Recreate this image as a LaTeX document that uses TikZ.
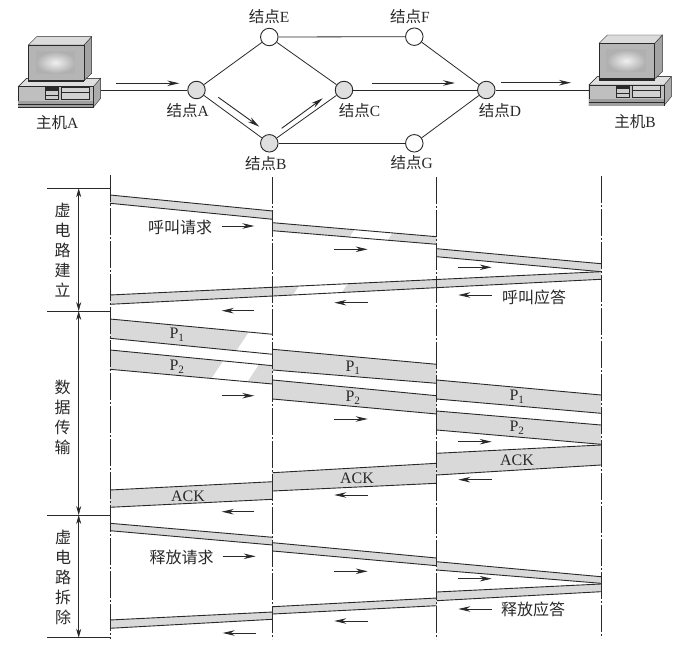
\documentclass[tikz,border=0pt]{standalone}
\usepackage{fontspec}
\setmainfont{Liberation Serif}
\newfontfamily\cjkfam{Noto Sans CJK SC}
\usetikzlibrary{arrows.meta}
\newcommand\cntext[1]{{\cjkfam #1}}
\definecolor{ink}{gray}{0.16}
\definecolor{bandgray}{gray}{0.85}
\tikzset{
  labeltext/.style={font=\fontsize{15.5}{17}\selectfont, inner sep=0pt, text=ink},
  bigtext/.style={font=\fontsize{16}{20}\selectfont, inner sep=0pt, text=ink, align=center},
  bandtext/.style={font=\fontsize{16}{18}\selectfont, inner sep=0pt, text=ink},
  netnode/.style={circle, draw=ink, line width=0.9pt, minimum size=17.5pt, inner sep=0pt},
  graynode/.style={netnode, fill=gray!25},
  whitenode/.style={netnode, fill=white},
  link/.style={draw=ink, line width=0.8pt},
  flowarrow/.style={draw=ink, line width=0.9pt, -{Stealth[length=12pt,width=5.5pt]}},
  bandline/.style={draw=ink, line width=0.9pt},
  lifeline/.style={draw=ink, line width=0.8pt, dash pattern=on 27pt off 2pt on 2pt off 2pt},
  rulerline/.style={draw=ink, line width=0.8pt},
  spanarrow/.style={draw=ink, line width=0.7pt, {Stealth[length=9pt,width=5pt]}-{Stealth[length=9pt,width=5pt]}},
}
% x1 yt1 yb1 x2 yt2 yb2
\newcommand\band[6]{%
  \fill[bandgray] (#1,#2)--(#4,#5)--(#4,#6)--(#1,#3)--cycle;
  \draw[bandline] (#1,#2)--(#4,#5) (#1,#3)--(#4,#6);
}
% same, with a pale gap between x=#7 and x=#8
\newcommand\bandgap[8]{%
  \fill[bandgray] (#1,#2)--(#4,#5)--(#4,#6)--(#1,#3)--cycle;
  \begin{scope}
    \clip (#1,#2)--(#4,#5)--(#4,#6)--(#1,#3)--cycle;
    \pgfmathsetmacro\gapy{(#2+#3+#5+#6)/4}
    \fill[white] (#7-20,\gapy+30)--(#8-20,\gapy+30)--(#8+20,\gapy-30)--(#7+20,\gapy-30)--cycle;
  \end{scope}
  \draw[bandline] (#1,#2)--(#4,#5) (#1,#3)--(#4,#6);
}
\newcommand\flow[4]{%
  \coordinate (#1s) at (#2,#4);
  \coordinate (#1e) at (#3,#4);
  \draw[flowarrow] (#1s)--(#1e);
}
% computer drawn in 1/3-pixel units
\newcommand\computer[2]{%
  \begin{scope}[shift={(#1,#2)},x=0.3333pt,y=-0.3333pt]
    \filldraw[draw=ink, fill=gray!65] (25,170)--(50,145)--(272,145)--(272,205)--(250,232)--(25,232)--cycle;
    \filldraw[draw=ink, fill=gray!25] (25,170)--(50,145)--(272,145)--(250,170)--cycle;
    \filldraw[draw=ink, fill=gray!50] (25,170)--(250,170)--(250,232)--(25,232)--cycle;
    \fill[gray!75] (25,213)--(250,213)--(250,232)--(25,232)--cycle;
    \draw[ink] (25,222)--(250,222);
    \filldraw[draw=ink, fill=gray!40] (105,172) rectangle (145,208);
    \fill[ink] (105,172) rectangle (145,183);
    \draw[ink] (105,195)--(145,195);
    \filldraw[draw=ink, fill=gray!35] (155,172) rectangle (238,208);
    \draw[ink] (155,186)--(238,186);
    \filldraw[draw=ink, fill=gray!72] (222,45)--(245,20)--(245,130)--(222,152)--cycle;
    \filldraw[draw=ink, fill=gray!28] (55,45)--(80,20)--(245,20)--(222,45)--cycle;
    \filldraw[draw=ink, fill=gray!58] (55,45) rectangle (222,150);
    \fill[ink] (55,150) rectangle (222,157);
    \shade[inner color=gray!12, outer color=gray!62] (78,65) rectangle (195,130);
  \end{scope}
}
\begin{document}
\begin{tikzpicture}[x=1pt,y=-1pt]
\useasboundingbox (0,0) rectangle (689,661);
\fill[white] (0,0) rectangle (689,661);

%--- hosts
\computer{10}{30}
\computer{580.7}{28.3}
\coordinate (hostA) at (100.7,90);
\coordinate (hostB) at (590,90);

%--- network nodes
\node[graynode]  (nA) at (196.5,90) {};
\node[whitenode] (nE) at (269.3,37) {};
\node[graynode]  (nB) at (269.3,143.3) {};
\node[graynode]  (nC) at (344,90) {};
\node[whitenode] (nF) at (414.3,36.7) {};
\node[whitenode] (nG) at (414.3,143.3) {};
\node[graynode]  (nD) at (486.3,90) {};

\draw[link] (hostA)--(nA);
\draw[link] (nA)--(nE);
\draw[link] (nA)--(nB);
\draw[link] (nE)--(nF);
\draw[link] (nE)--(nC);
\draw[link] (nB)--(nC);
\draw[link] (nB)--(nG);
\draw[link] (nC)--(nD);
\draw[link] (nF)--(nD);
\draw[link] (nG)--(nD);
\draw[link] (nD)--(hostB);

\node[labeltext] (lA) at (187.7,110.7) {\cntext{结点}A};
\node[labeltext] (lB) at (265.7,163.3) {\cntext{结点}B};
\node[labeltext] (lC) at (359.5,110.7) {\cntext{结点}C};
\node[labeltext] (lD) at (500,110.7) {\cntext{结点}D};
\node[labeltext] (lE) at (269,17) {\cntext{结点}E};
\node[labeltext] (lF) at (410,17) {\cntext{结点}F};
\node[labeltext] (lG) at (411.7,163) {\cntext{结点}G};
\node[labeltext] (hA) at (57.3,122.7) {\cntext{主机}A};
\node[labeltext] (hB) at (635,121.7) {\cntext{主机}B};

%--- arrows in the network
\flow{n1}{116}{179.3}{83.3}
\coordinate (n2s) at (218.3,97.3);
\coordinate (n2e) at (259.3,126.7);
\draw[flowarrow] (n2s)--(n2e);
\coordinate (n3s) at (281.7,128.3);
\coordinate (n3e) at (322.7,98.3);
\draw[flowarrow] (n3s)--(n3e);
\flow{n4}{371.7}{455}{83}
\flow{n5}{501}{571}{82.7}

%--- bands
% call request
\band{110}{195}{203.3}{272.7}{211}{219.3}
\bandgap{272.7}{222.7}{230.7}{436.7}{236.7}{244.3}{352}{392}
\band{436.7}{248.7}{256.7}{601}{263.7}{271.7}
% call reply
\bandgap{110}{295}{304.3}{601}{271.7}{279.3}{298}{345}
% data
\bandgap{110}{319}{338.3}{272.7}{334.3}{354.3}{246}{295}
\bandgap{110}{350}{369.3}{272.7}{365.7}{384}{219}{257}
\band{272.7}{349.3}{370}{436.7}{364.3}{383.3}
\band{272.7}{380}{399}{436.7}{395.7}{414}
\band{436.7}{380}{399}{601}{395}{413.3}
\band{436.7}{411}{430}{601}{425}{444.3}
% ack
\band{436.7}{453.3}{475}{601}{445}{465}
\band{272.7}{472.7}{491}{436.7}{463.3}{483.3}
\band{110}{490}{507.3}{272.7}{481.7}{499.3}
% release request
\band{110}{523.3}{530.7}{272.7}{537.3}{545}
\band{272.7}{542.7}{551}{436.7}{558}{565.7}
\band{436.7}{561.7}{570}{601}{576.7}{583.3}
% release reply
\band{436.7}{592}{600.7}{601}{584}{591.7}
\band{272.7}{606.7}{614}{436.7}{598}{605.7}
\band{110}{620}{628.3}{272.7}{612}{619.3}

%--- time lines
\coordinate (t1a) at (110,175);    \coordinate (t1b) at (110,639);
\coordinate (t2a) at (272.7,177);  \coordinate (t2b) at (272.7,639);
\coordinate (t3a) at (436.7,177);  \coordinate (t3b) at (436.7,639);
\coordinate (t4a) at (601,176);    \coordinate (t4b) at (601,638);
\draw[lifeline] (t1a)--(t1b);
\draw[lifeline] (t2a)--(t2b);
\draw[lifeline] (t3a)--(t3b);
\draw[lifeline] (t4a)--(t4b);

%--- phase rulers
\coordinate (r1l) at (47,188.3); \coordinate (r1r) at (110,188.3);
\coordinate (r2l) at (47,311);   \coordinate (r2r) at (110,311);
\coordinate (r3l) at (47,515);   \coordinate (r3r) at (110,515);
\coordinate (r4l) at (47,637.7); \coordinate (r4r) at (110,637.7);
\draw[rulerline] (r1l)--(r1r);
\draw[rulerline] (r2l)--(r2r);
\draw[rulerline] (r3l)--(r3r);
\draw[rulerline] (r4l)--(r4r);
\coordinate (s1) at (78.7,188.3);
\coordinate (s2) at (78.7,311);
\coordinate (s3) at (78.7,515);
\coordinate (s4) at (78.7,637.7);
\draw[spanarrow] (s1)--(s2);
\draw[spanarrow] (s2)--(s3);
\draw[spanarrow] (s3)--(s4);

\node[bigtext] (ph1) at (62.7,250.5) {\cntext{虚}\\\cntext{电}\\\cntext{路}\\\cntext{建}\\\cntext{立}};
\node[bigtext] (ph2) at (62.7,417.5) {\cntext{数}\\\cntext{据}\\\cntext{传}\\\cntext{输}};
\node[bigtext] (ph3) at (63,577.5) {\cntext{虚}\\\cntext{电}\\\cntext{路}\\\cntext{拆}\\\cntext{除}};

%--- flow arrows
\flow{a1}{221.7}{254.3}{226}
\flow{a2}{334.3}{367.7}{249.3}
\flow{a3}{458.3}{491.7}{267.3}
\flow{a4}{491.7}{458.3}{295}
\flow{a5}{367.7}{334.3}{302.7}
\flow{a6}{254.3}{221.7}{310.7}
\flow{a7}{221.7}{254.3}{395.7}
\flow{a8}{334.3}{367.7}{419}
\flow{a9}{458.3}{491.7}{441.7}
\flow{a10}{491.7}{458.3}{479.7}
\flow{a11}{367.7}{334.3}{495}
\flow{a12}{254.3}{221.7}{511.7}
\flow{a13}{222.7}{255.7}{556.3}
\flow{a14}{334.3}{367.7}{571.3}
\flow{a15}{458.3}{491.7}{578.7}
\flow{a16}{491.7}{458.3}{609}
\flow{a17}{367.7}{334.3}{621}
\flow{a18}{255.7}{222.7}{633}

%--- labels
\node[bigtext] (m1) at (180,227.7) {\cntext{呼叫请求}};
\node[bigtext] (m2) at (534,297) {\cntext{呼叫应答}};
\node[bigtext] (m3) at (181.7,557) {\cntext{释放请求}};
\node[bigtext] (m4) at (533,609) {\cntext{释放应答}};
\node[bandtext] (p1) at (177,335) {P\textsubscript{1}};
\node[bandtext] (p2) at (177,367) {P\textsubscript{2}};
\node[bandtext] (p3) at (353,367.5) {P\textsubscript{1}};
\node[bandtext] (p4) at (353,397.5) {P\textsubscript{2}};
\node[bandtext] (p5) at (517,396.5) {P\textsubscript{1}};
\node[bandtext] (p6) at (517,427.5) {P\textsubscript{2}};
\node[bandtext] (k1) at (517,460) {ACK};
\node[bandtext] (k2) at (357,478) {ACK};
\node[bandtext] (k3) at (188,496) {ACK};
\end{tikzpicture}
\end{document}
